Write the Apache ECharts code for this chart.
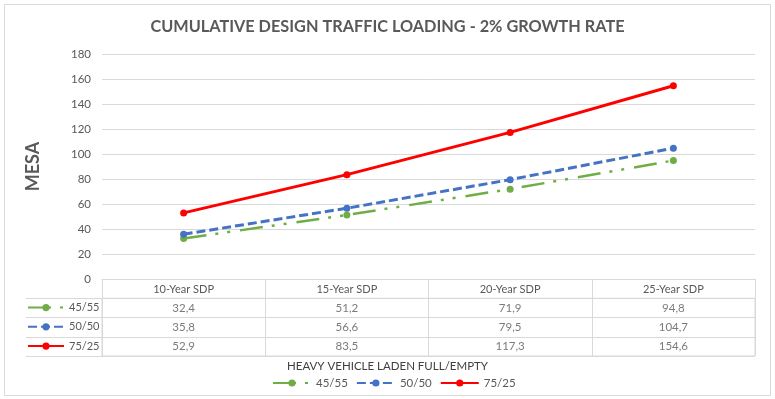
<!DOCTYPE html>
<html>
<head>
<meta charset="utf-8">
<script src="https://cdn.jsdelivr.net/npm/echarts@6/dist/echarts.min.js"></script>
<style>
  html, body { margin: 0; padding: 0; background: #fff; }
  #chart { width: 775px; height: 399px; }
</style>
</head>
<body>
<div id="chart"></div>
<script>
// chart data
const categories = ['10-Year SDP', '15-Year SDP', '20-Year SDP', '25-Year SDP'];
const seriesNames = ['45/55', '50/50', '75/25'];
const values4555 = [32.4, 51.2, 71.9, 94.8];
const values5050 = [35.8, 56.6, 79.5, 104.7];
const values7525 = [52.9, 83.5, 117.3, 154.6];
const yTicks = { min: 0, max: 180, interval: 20 };

const GRID_COLOR = '#d9d9d9';
const TEXT_COLOR = '#595959';
const FONT = 'Lato, "Liberation Sans", sans-serif';

const seriesValues = [values4555, values5050, values7525];
const seriesColors = ['#70ad47', '#4472c4', '#ff0000'];
const seriesDash = [[23, 9, 3, 9, 3, 10], [9, 4], 'solid'];
const seriesWidth = [2.5, 3, 3];

// table cells: [column, row, value]
let tableCells = [];
seriesValues.forEach(function (vals, row) {
    vals.forEach(function (v, col) {
        tableCells.push([col, row, v]);
    });
});

function fmt(v) {
    return v.toFixed(1).replace('.', ',');
}

let chart = echarts.init(document.getElementById('chart'));

let lineSeries = seriesNames.map(function (name, i) {
    return {
        name: name,
        type: 'line',
        xAxisIndex: 0,
        yAxisIndex: 0,
        data: seriesValues[i],
        symbol: 'circle',
        symbolSize: 7,
        color: seriesColors[i],
        lineStyle: { width: seriesWidth[i], type: seriesDash[i], cap: 'butt' },
        itemStyle: { color: seriesColors[i] },
        z: 2 + i
    };
});

let option = {
    backgroundColor: '#fff',
    animation: false,
    textStyle: { fontFamily: FONT },
    title: [
        {
            text: 'CUMULATIVE DESIGN TRAFFIC LOADING - 2% GROWTH RATE',
            left: 'center',
            top: 19,
            padding: 0,
            textStyle: { fontSize: 16.3, fontWeight: 'bold', color: TEXT_COLOR, fontFamily: FONT }
        },
        {
            text: 'HEAVY VEHICLE LADEN FULL/EMPTY',
            left: 'center',
            top: 360,
            padding: 0,
            textStyle: { fontSize: 11.5, fontWeight: 'normal', color: '#404040', fontFamily: FONT }
        }
    ],
    legend: [
        {
            data: seriesNames,
            orient: 'horizontal',
            left: 272,
            top: 376,
            padding: 0,
            itemWidth: 38,
            itemHeight: 9,
            itemGap: 8,
            textStyle: { fontSize: 11.5, color: TEXT_COLOR, fontFamily: FONT, lineHeight: 14 }
        },
        {
            data: seriesNames,
            orient: 'vertical',
            left: 27,
            top: 300.6,
            padding: 0,
            itemWidth: 36,
            itemHeight: 9,
            itemGap: 5.25,
            textStyle: { fontSize: 11, color: TEXT_COLOR, fontFamily: FONT, lineHeight: 14 }
        }
    ],
    grid: [
        { left: 102, right: 20, top: 54, height: 225 },
        { left: 102, right: 20, top: 298.25, height: 57.75, show: true, borderColor: GRID_COLOR, borderWidth: 1 }
    ],
    xAxis: [
        {
            type: 'category',
            gridIndex: 0,
            data: categories,
            boundaryGap: true,
            axisLine: { lineStyle: { color: GRID_COLOR, width: 1 } },
            axisTick: { show: true, length: 19.25, interval: 0, lineStyle: { color: GRID_COLOR } },
            axisLabel: { margin: 5, fontSize: 11, color: TEXT_COLOR, interval: 0 },
            splitLine: { show: false }
        },
        {
            type: 'category',
            gridIndex: 1,
            data: categories,
            boundaryGap: true,
            axisLine: { show: false },
            axisTick: { show: false },
            axisLabel: { show: false },
            splitLine: { show: true, interval: 0, lineStyle: { color: GRID_COLOR } }
        }
    ],
    yAxis: [
        {
            type: 'value',
            gridIndex: 0,
            min: yTicks.min,
            max: yTicks.max,
            interval: yTicks.interval,
            name: 'MESA',
            nameLocation: 'middle',
            nameGap: 60,
            nameTextStyle: { fontSize: 18, fontWeight: 'bold', color: TEXT_COLOR, fontFamily: FONT },
            axisLine: { show: false },
            axisTick: { show: false },
            axisLabel: { margin: 11, fontSize: 11.5, color: TEXT_COLOR },
            splitLine: { lineStyle: { color: GRID_COLOR, width: 1 } }
        },
        {
            type: 'category',
            gridIndex: 1,
            data: seriesNames,
            inverse: true,
            axisLine: { show: false },
            axisTick: { show: true, length: 76, interval: 0, lineStyle: { color: GRID_COLOR } },
            axisLabel: { show: false },
            splitLine: { show: true, interval: 0, lineStyle: { color: GRID_COLOR } }
        },
        {
            type: 'category',
            gridIndex: 1,
            data: seriesNames,
            inverse: true,
            offset: 76,
            axisLine: { show: true, lineStyle: { color: GRID_COLOR } },
            axisTick: { show: false },
            axisLabel: { show: false },
            splitLine: { show: false }
        }
    ],
    graphic: [
        {
            type: 'rect',
            shape: { x: 4.5, y: 4.5, width: 766, height: 391 },
            style: { fill: 'none', stroke: GRID_COLOR, lineWidth: 1 },
            silent: true,
            z: -1
        }
    ],
    series: lineSeries.concat([
        {
            name: 'table',
            type: 'scatter',
            xAxisIndex: 1,
            yAxisIndex: 1,
            data: tableCells,
            symbolSize: 0,
            silent: true,
            label: {
                show: true,
                position: 'inside',
                fontSize: 11.5,
                color: TEXT_COLOR,
                fontFamily: FONT,
                formatter: function (p) { return fmt(p.value[2]); }
            }
        }
    ])
};

option && chart.setOption(option);
</script>
</body>
</html>
